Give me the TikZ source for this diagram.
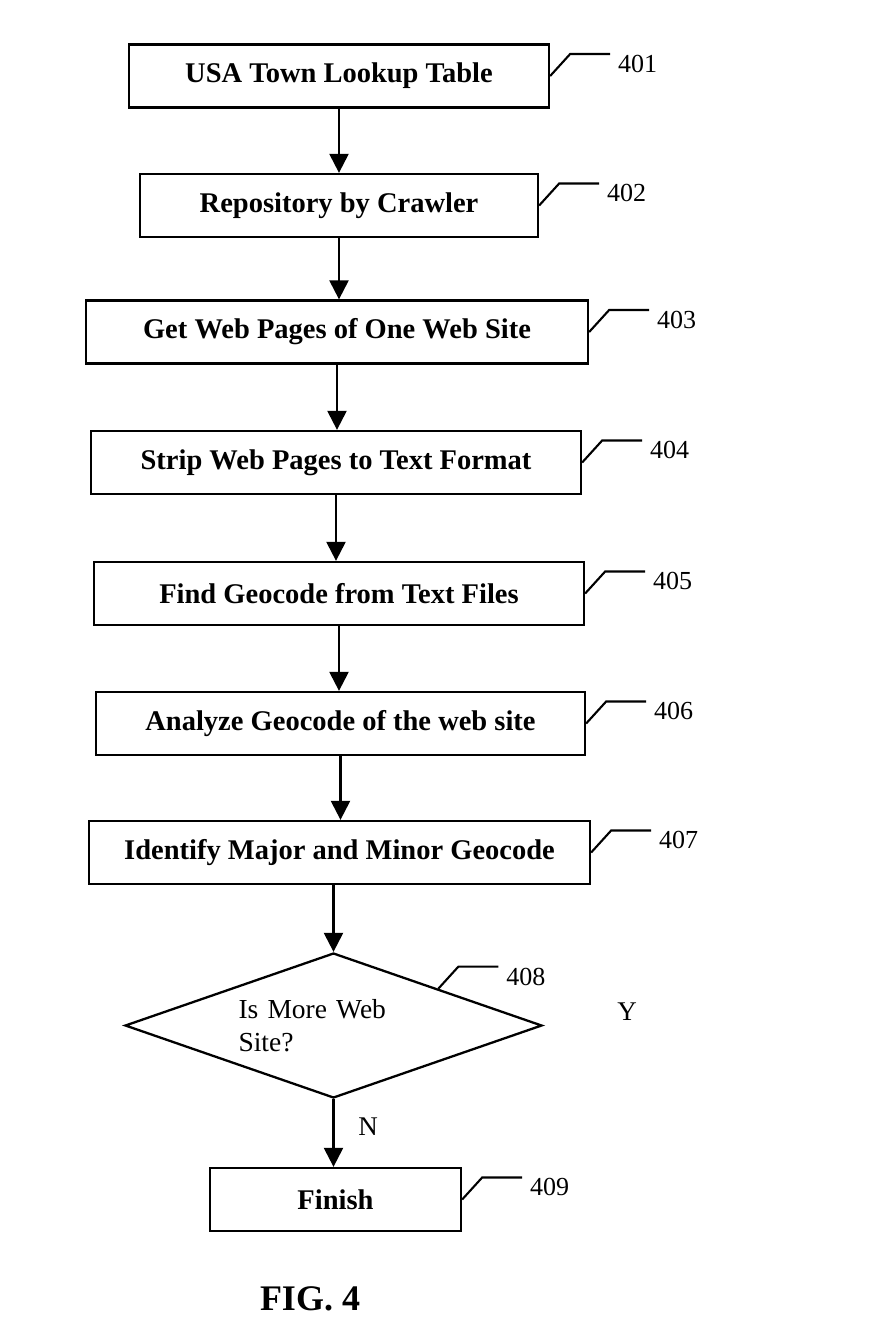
\documentclass[tikz,border=0pt]{standalone}
\usepackage{fontspec}
\setmainfont{Liberation Serif}
\usetikzlibrary{arrows.meta,shapes.geometric}
\tikzset{
  flowarr/.style={-{Triangle[length=19pt,width=19pt]},line width=2.3pt},
  leadline/.style={line width=2.1pt},
  stepbox/.style={draw,line width=2.3pt,minimum height=63pt,inner sep=0pt,font=\fontsize{28.5}{32}\selectfont\bfseries},
  decbox/.style={draw,diamond,aspect=2.9,line width=2.3pt,minimum width=417pt,minimum height=145pt,inner sep=0pt,text width=190pt,align=left,font=\fontsize{27.5}{33}\selectfont},
  refnum/.style={anchor=north west,inner sep=0pt,xshift=7pt,font=\fontsize{26}{30}\selectfont},
  plainlbl/.style={inner sep=0pt,font=\fontsize{27}{32}\selectfont}
}

\begin{document}
\begin{tikzpicture}[x=1pt,y=-1pt]
  \useasboundingbox (0,0) rectangle (868,1336);
  % steps
  \node[stepbox,minimum width=420pt] (lookup) at (339,76) {USA Town Lookup Table};
  \node[stepbox,minimum width=398pt] (crawl) at (339,205.5) {Repository by Crawler};
  \node[stepbox,minimum width=502pt] (getpages) at (337,332) {Get Web Pages of One Web Site};
  \node[stepbox,minimum width=490pt] (strip) at (336,462.5) {Strip Web Pages to Text Format};
  \node[stepbox,minimum width=490pt] (findgeo) at (339,593.5) {Find Geocode from Text Files};
  \node[stepbox,minimum width=489pt] (analyze) at (340.5,723.5) {Analyze Geocode of the web site};
  \node[stepbox,minimum width=501pt] (identify) at (339.5,852.5) {Identify Major and Minor Geocode};
  \node[decbox] (more) at (333.5,1025.5) {Is More Web\\Site?};
  \node[stepbox,minimum width=251pt] (finish) at (335.5,1199.5) {Finish};
  % branch letters and caption
  \node[plainlbl] (yes) at (627,1012) {Y};
  \node[plainlbl] (no) at (368,1127) {N};
  \node[font=\fontsize{36}{40}\selectfont\bfseries] (fig) at (310,1299) {FIG. 4};
  % flow
  \foreach \a/\b in {lookup/crawl,crawl/getpages,getpages/strip,strip/findgeo,findgeo/analyze,analyze/identify}
    \draw[flowarr] (\a.south) -- (\a.south |- \b.north);
  \draw[flowarr] (more.north |- identify.south) -- (more.north);
  \draw[flowarr] (more.south) -- (more.south |- finish.north);
  % reference numerals
  \foreach \p/\t in {lookup.east/401,crawl.east/402,getpages.east/403,strip.east/404,findgeo.east/405,analyze.east/406,identify.east/407,more.north east/408,finish.east/409}
    \draw[leadline] (\p) -- ++(20,-22) -- ++(40,0) node[refnum] {\t};
\end{tikzpicture}
\end{document}
